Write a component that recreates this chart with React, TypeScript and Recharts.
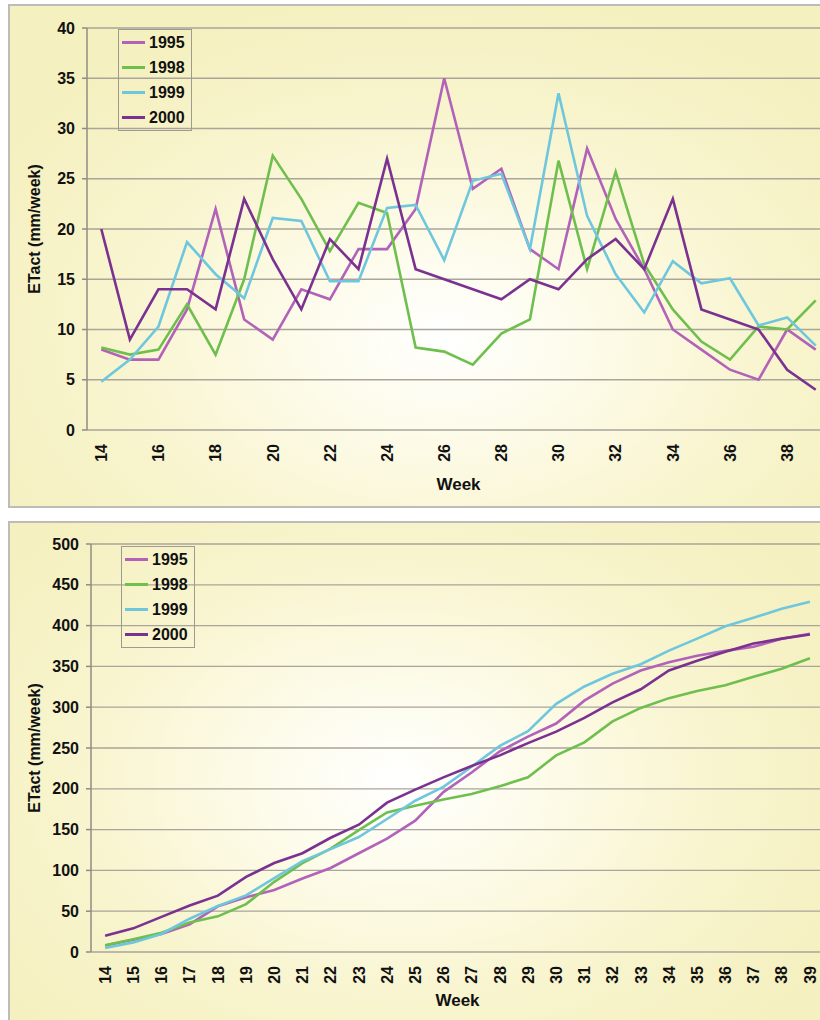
import React from 'react';
import { LineChart, Line, XAxis, YAxis, CartesianGrid, Legend, Label } from 'recharts';

// ---------- data ----------
const WEEKS = [14, 15, 16, 17, 18, 19, 20, 21, 22, 23, 24, 25, 26, 27, 28, 29, 30, 31, 32, 33, 34, 35, 36, 37, 38, 39];
const TOP_TICKS = [14, 16, 18, 20, 22, 24, 26, 28, 30, 32, 34, 36, 38];
const BOTTOM_TICKS = [14, 15, 16, 17, 18, 19, 20, 21, 22, 23, 24, 25, 26, 27, 28, 29, 30, 31, 32, 33, 34, 35, 36, 37, 38, 39];
const WEEK_BOUNDS = [13.5, 14.5, 15.5, 16.5, 17.5, 18.5, 19.5, 20.5, 21.5, 22.5, 23.5, 24.5, 25.5, 26.5, 27.5, 28.5, 29.5, 30.5, 31.5, 32.5, 33.5, 34.5, 35.5, 36.5, 37.5, 38.5, 39.5];
const TOP_Y_TICKS = [0, 5, 10, 15, 20, 25, 30, 35, 40];
const BOTTOM_Y_TICKS = [0, 50, 100, 150, 200, 250, 300, 350, 400, 450, 500];

// weekly ETact (mm/week)
const ET_1995 = [8, 7, 7, 12, 22, 11, 9, 14, 13, 18, 18, 22, 35, 24, 26, 18, 16, 28, 21, 16, 10, 8, 6, 5, 10, 8];
const ET_1998 = [8.2, 7.5, 8, 12.5, 7.5, 15, 27.3, 23, 17.8, 22.6, 21.6, 8.2, 7.8, 6.5, 9.6, 11, 26.8, 16, 25.7, 16.5, 12, 8.8, 7, 10.3, 10, 12.9];
const ET_1999 = [4.8, 7, 10.3, 18.7, 15.5, 13.1, 21.1, 20.8, 14.8, 14.8, 22.1, 22.4, 16.9, 24.8, 25.5, 18, 33.5, 21.3, 15.5, 11.7, 16.8, 14.6, 15.1, 10.4, 11.2, 8.4];
const ET_2000 = [20, 9, 14, 14, 12, 23, 17, 12, 19, 16, 27, 16, 15, 14, 13, 15, 14, 17, 19, 16, 23, 12, 11, 10, 6, 4];

// accumulated ETact
const CUM_1995 = [8, 15, 22, 34, 56, 67, 76, 90, 103, 121, 139, 161, 196, 220, 246, 264, 280, 308, 329, 345, 355, 363, 369, 374, 384, 390];
const CUM_1998 = [8.2, 15.7, 23.7, 36.2, 43.7, 58.7, 86, 109, 126.8, 149.4, 171, 179.2, 187, 193.5, 203.1, 214.1, 240.9, 256.9, 282.6, 299.1, 311.1, 319.9, 326.9, 337.2, 347.2, 360.1];
const CUM_1999 = [4.8, 11.8, 22.1, 40.8, 56.3, 69.4, 90.5, 111.3, 126.1, 140.9, 163, 185.4, 202.3, 227.1, 252.6, 270.6, 304.1, 325.4, 340.9, 352.6, 369.4, 384, 399.1, 409.5, 420.7, 429.1];
const CUM_2000 = [20, 29, 43, 57, 69, 92, 109, 121, 140, 156, 183, 199, 214, 228, 241, 256, 270, 287, 306, 322, 345, 357, 368, 378, 384, 389];

const SERIES = [
  { key: 's1995', name: '1995', color: '#b262b8' },
  { key: 's1998', name: '1998', color: '#6fbf4f' },
  { key: 's1999', name: '1999', color: '#6fc7dd' },
  { key: 's2000', name: '2000', color: '#7b3190' },
];

const weeklyRows = WEEKS.map((w, i) => ({
  week: w,
  s1995: ET_1995[i],
  s1998: ET_1998[i],
  s1999: ET_1999[i],
  s2000: ET_2000[i],
}));

const cumulativeRows = WEEKS.map((w, i) => ({
  week: w,
  s1995: CUM_1995[i],
  s1998: CUM_1998[i],
  s1999: CUM_1999[i],
  s2000: CUM_2000[i],
}));

// ---------- styling ----------
const FONT = '"Liberation Sans", Arial, Helvetica, sans-serif';
const TEXT = '#111111';
const AXIS = '#8f8c86';
const GRID = '#a9a59a';

const WeekTick = (props: any) => {
  const { x, y, payload } = props;
  return (
    <g transform={`translate(${x},${y})`}>
      <text
        transform="rotate(-90)"
        x={-14}
        y={0}
        dy="0.36em"
        textAnchor="end"
        fontFamily={FONT}
        fontWeight="bold"
        fontSize={16}
        fill={TEXT}
      >
        {payload.value}
      </text>
    </g>
  );
};

const makeYLabel = (cx: number) => (props: any) => {
  const vb = props.viewBox || {};
  const cy = (vb.y || 0) + (vb.height || 0) / 2;
  return (
    <text
      x={cx}
      y={cy}
      transform={`rotate(-90, ${cx}, ${cy})`}
      textAnchor="middle"
      dominantBaseline="central"
      fontFamily={FONT}
      fontWeight="bold"
      fontSize={16}
      fill={TEXT}
    >
      ETact (mm/week)
    </text>
  );
};

const makeXLabel = (dy: number) => (props: any) => {
  const vb = props.viewBox || {};
  const cx = (vb.x || 0) + (vb.width || 0) / 2;
  return (
    <text
      x={cx}
      y={(vb.y || 0) + dy}
      textAnchor="middle"
      dominantBaseline="central"
      fontFamily={FONT}
      fontWeight="bold"
      fontSize={17}
      fill={TEXT}
    >
      Week
    </text>
  );
};

const LegendBox = () => (
  <div
    style={{
      border: '1px solid #9d9a94',
      padding: '0 6px 0 3px',
      fontFamily: FONT,
      fontWeight: 'bold',
      fontSize: 16,
      color: TEXT,
      lineHeight: '25px',
      boxSizing: 'content-box',
    }}
  >
    {SERIES.map((s) => (
      <div key={s.key} style={{ display: 'flex', alignItems: 'center', height: 25 }}>
        <span style={{ display: 'inline-block', width: 23, height: 3, background: s.color, marginRight: 4 }} />
        <span>{s.name}</span>
      </div>
    ))}
  </div>
);

const frameStyle = (top: number, height: number, bg: string): React.CSSProperties => ({
  position: 'absolute',
  left: 8,
  top,
  width: 850,
  height,
  border: '2px solid #bdbcb8',
  boxSizing: 'border-box',
  background: bg,
});

const TOP_BG = 'radial-gradient(ellipse 62% 70% at 51% 66%, #ffffff 0%, #fdfbe8 30%, #f8f4cd 65%, #f5f0bf 100%)';
const BOTTOM_BG = 'radial-gradient(ellipse 60% 68% at 46% 50%, #ffffff 0%, #fdfbe8 30%, #f8f4cd 65%, #f5f0bf 100%)';

type ChartProps = {
  rows: any[];
  height: number;
  marginTop: number;
  marginRight: number;
  yWidth: number;
  yMax: number;
  yTicks: number[];
  xTicks: number[];
  xHeight: number;
  weekDy: number;
  legendLeft: number;
  legendTop: number;
  gridWidth: number;
};

const ETChart = (p: ChartProps) => (
  <LineChart
    width={840}
    height={p.height}
    data={p.rows}
    margin={{ top: p.marginTop, right: p.marginRight, bottom: 0, left: 0 }}
  >
    <CartesianGrid xAxisId="lab" vertical={false} stroke={GRID} strokeWidth={p.gridWidth} />
    <XAxis
      xAxisId="marks"
      type="number"
      dataKey="week"
      domain={[13.5, 39.5]}
      ticks={WEEK_BOUNDS}
      tick={false}
      tickSize={5}
      tickLine={{ stroke: AXIS, strokeWidth: 1.5 }}
      axisLine={{ stroke: AXIS, strokeWidth: 1.5 }}
      height={0}
      allowDataOverflow
    />
    <XAxis
      xAxisId="lab"
      type="number"
      dataKey="week"
      domain={[13.5, 39.5]}
      ticks={p.xTicks}
      interval={0}
      tick={<WeekTick />}
      tickLine={false}
      tickSize={0}
      tickMargin={0}
      axisLine={false}
      height={p.xHeight}
      allowDataOverflow
    >
      <Label content={makeXLabel(p.weekDy)} />
    </XAxis>
    <YAxis
      type="number"
      domain={[0, p.yMax]}
      ticks={p.yTicks}
      interval={0}
      width={p.yWidth}
      tickSize={5}
      tickMargin={7}
      tickLine={{ stroke: AXIS, strokeWidth: 1.5 }}
      axisLine={{ stroke: AXIS, strokeWidth: 1.5 }}
      tick={{ fontFamily: FONT, fontWeight: 'bold', fontSize: 16, fill: TEXT }}
    >
      <Label content={makeYLabel(34)} />
    </YAxis>
    <Legend
      layout="vertical"
      align="center"
      verticalAlign="middle"
      content={<LegendBox />}
      wrapperStyle={{ position: 'absolute', left: p.legendLeft, top: p.legendTop, width: 'auto', height: 'auto' }}
    />
    {SERIES.map((s) => (
      <Line
        key={s.key}
        xAxisId="lab"
        type="linear"
        dataKey={s.key}
        name={s.name}
        stroke={s.color}
        strokeWidth={2.6}
        dot={false}
        activeDot={false}
        isAnimationActive={false}
      />
    ))}
  </LineChart>
);

export default function App() {
  return (
    <div style={{ position: 'absolute', left: 0, top: 0, width: 820, height: 1020, overflow: 'hidden', background: '#ffffff' }}>
      <div style={frameStyle(4, 504, TOP_BG)} />
      <div style={frameStyle(521, 520, BOTTOM_BG)} />
      <div style={{ position: 'absolute', left: 0, top: 0 }}>
        <ETChart
          rows={weeklyRows}
          height={508}
          marginTop={28}
          marginRight={10}
          yWidth={87}
          yMax={40}
          yTicks={TOP_Y_TICKS}
          xTicks={TOP_TICKS}
          xHeight={78}
          weekDy={54}
          legendLeft={118}
          legendTop={29}
          gridWidth={1.6}
        />
      </div>
      <div style={{ position: 'absolute', left: 0, top: 515 }}>
        <ETChart
          rows={cumulativeRows}
          height={505}
          marginTop={29}
          marginRight={16}
          yWidth={91}
          yMax={500}
          yTicks={BOTTOM_Y_TICKS}
          xTicks={BOTTOM_TICKS}
          xHeight={68}
          weekDy={48}
          legendLeft={121}
          legendTop={31}
          gridWidth={1.3}
        />
      </div>
    </div>
  );
}
